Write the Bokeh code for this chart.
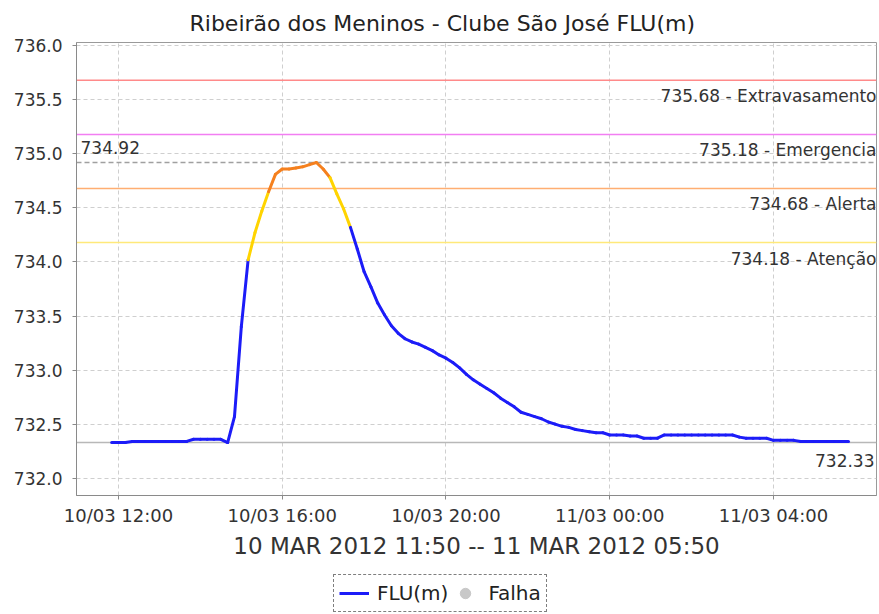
import pandas as pd
from bokeh.plotting import figure
from bokeh.layouts import column
from bokeh.models import (Span, Label, Legend, LegendItem, ColumnDataSource,
                          FixedTicker, DatetimeTickFormatter, Range1d,
                          NumeralTickFormatter)
from bokeh.embed import file_html
from bokeh.resources import INLINE

# ---------------- data ----------------
title_text = "Ribeirão dos Meninos - Clube São José FLU(m)"
period_label = "10 MAR 2012 11:50 -- 11 MAR 2012 05:50"
series_name = "FLU(m)"
fail_name = "Falha"
start_time = "2012-03-10 11:50"
sample_step = "10min"

flu_values = [
    732.33, 732.33, 732.33, 732.34, 732.34, 732.34, 732.34, 732.34, 732.34, 732.34,
    732.34, 732.34, 732.36, 732.36, 732.36, 732.36, 732.36, 732.33, 732.57, 733.40,
    734.02, 734.27, 734.47, 734.65, 734.81, 734.86, 734.86, 734.87, 734.88, 734.90,
    734.92, 734.86, 734.78, 734.63, 734.49, 734.32, 734.12, 733.91, 733.77, 733.62,
    733.51, 733.41, 733.34, 733.29, 733.26, 733.24, 733.21, 733.18, 733.14, 733.11,
    733.07, 733.02, 732.96, 732.91, 732.87, 732.83, 732.79, 732.74, 732.70, 732.66,
    732.61, 732.59, 732.57, 732.55, 732.52, 732.50, 732.48, 732.47, 732.45, 732.44,
    732.43, 732.42, 732.42, 732.40, 732.40, 732.40, 732.39, 732.39, 732.37, 732.37,
    732.37, 732.40, 732.40, 732.40, 732.40, 732.40, 732.40, 732.40, 732.40, 732.40,
    732.40, 732.40, 732.38, 732.37, 732.37, 732.37, 732.37, 732.35, 732.35, 732.35,
    732.35, 732.34, 732.34, 732.34, 732.34, 732.34, 732.34, 732.34, 732.34,
]

threshold_values = [735.68, 735.18, 734.68, 734.18]
threshold_names = ["Extravasamento", "Emergencia", "Alerta", "Atenção"]
threshold_colors = ["#FF8A8A", "#F27EF2", "#FFAE72", "#FFE97A"]

# level colours of the series: below 734.18, 734.18-734.68, above 734.68
level_bounds = [734.18, 734.68]
level_colors = ["#1C1CF8", "#FFD400", "#F5801E"]
fail_color = "#C8C8C8"

x_tick_times = ["2012-03-10 12:00", "2012-03-10 16:00", "2012-03-10 20:00",
                "2012-03-11 00:00", "2012-03-11 04:00"]
y_ticks = [732.0, 732.5, 733.0, 733.5, 734.0, 734.5, 735.0, 735.5, 736.0]
x_view = ["2012-03-10 10:58:27", "2012-03-11 06:31:00"]
y_view = [731.84, 736.03]

# ---------------- build ----------------
def ms(t):
    return pd.Timestamp(t).value / 1e6

times = pd.date_range(start_time, periods=len(flu_values), freq=sample_step)

def level_color(v):
    if v < level_bounds[0]:
        return level_colors[0]
    if v < level_bounds[1]:
        return level_colors[1]
    return level_colors[2]

seg_src = ColumnDataSource(dict(
    x0=list(times[:-1]), x1=list(times[1:]),
    y0=flu_values[:-1], y1=flu_values[1:],
    color=[level_color(v) for v in flu_values[1:]],
))

FONT = "DejaVu Sans"

p = figure(frame_width=800, frame_height=453, output_backend="svg",
           toolbar_location=None, x_axis_type="datetime",
           x_range=Range1d(ms(x_view[0]), ms(x_view[1])),
           y_range=Range1d(y_view[0], y_view[1]),
           min_border_left=76, min_border_right=2, min_border_top=42,
           min_border_bottom=76)

p.title.text = title_text
p.title.text_font = FONT
p.title.text_font_size = "22px"
p.title.text_font_style = "normal"
p.title.text_color = "#222222"
p.title.align = "left"
p.title.offset = 113
p.title.standoff = 14

p.outline_line_color = "#9A9A9A"
p.outline_line_width = 1
p.background_fill_color = "white"
p.border_fill_color = "white"

# grid
for g in (p.xgrid, p.ygrid):
    g.grid_line_color = "#CFCFCF"
    g.grid_line_dash = "4 3"
    g.grid_line_width = 1
p.xgrid.ticker = FixedTicker(ticks=[ms(t) for t in x_tick_times])
p.ygrid.ticker = FixedTicker(ticks=y_ticks)

# axes
p.xaxis.ticker = FixedTicker(ticks=[ms(t) for t in x_tick_times])
p.xaxis.formatter = DatetimeTickFormatter(hours="%d/%m %H:%M", days="%d/%m %H:%M",
                                          minutes="%d/%m %H:%M", hourmin="%d/%m %H:%M")
p.yaxis.ticker = FixedTicker(ticks=y_ticks)
p.yaxis.formatter = NumeralTickFormatter(format="0.0")
for ax in (p.xaxis[0], p.yaxis[0]):
    ax.axis_line_color = "#8A8A8A"
    ax.major_tick_line_color = "#8A8A8A"
    ax.major_tick_in = 0
    ax.major_tick_out = 4
    ax.minor_tick_line_color = None
    ax.major_label_text_font = FONT
    ax.major_label_text_color = "#333333"
p.yaxis.major_label_text_font_size = "17px"
p.xaxis.major_label_text_font_size = "18px"
p.xaxis.major_label_standoff = 5
p.yaxis.major_label_standoff = 10
p.xaxis.axis_label = period_label
p.xaxis.axis_label_text_font = FONT
p.xaxis.axis_label_text_font_size = "23px"
p.xaxis.axis_label_text_font_style = "normal"
p.xaxis.axis_label_text_color = "#333333"
p.xaxis.axis_label_standoff = 4

# threshold lines and labels
for v, name, c in zip(threshold_values, threshold_names, threshold_colors):
    p.add_layout(Span(location=v, dimension="width", line_color=c,
                      line_width=1.5, level="underlay"))
    p.add_layout(Label(x=ms(x_view[1]), y=v, x_offset=0, y_offset=-16,
                       text=f"{v:.2f} - {name}", text_align="right",
                       text_baseline="middle", text_font=FONT,
                       text_font_size="17px", text_color="#333333"))

vmax = max(flu_values)
vmin = min(flu_values)
p.add_layout(Span(location=vmax, dimension="width", line_color="#A0A0A0",
                  line_width=1.5, line_dash="5 3", level="underlay"))
p.add_layout(Label(x=ms(x_view[0]), y=vmax, x_offset=4, y_offset=15,
                   text=f"{vmax:.2f}", text_align="left", text_baseline="middle",
                   text_font=FONT, text_font_size="17px", text_color="#333333"))
p.add_layout(Span(location=vmin, dimension="width", line_color="#B8B8B8",
                  line_width=1.5, level="underlay"))
p.add_layout(Label(x=ms(x_view[1]), y=vmin, x_offset=-2, y_offset=-18,
                   text=f"{vmin:.2f}", text_align="right", text_baseline="middle",
                   text_font=FONT, text_font_size="17px", text_color="#333333"))

# series
p.segment(x0="x0", y0="y0", x1="x1", y1="y1", color="color",
          line_width=3, line_cap="round", source=seg_src)

# ---------------- legend strip ----------------
# the strip's ranges keep its own copies of the series out of view;
# they exist only so that the legend can draw its glyphs
lg = figure(width=878, height=43, output_backend="svg", toolbar_location=None,
            x_axis_location=None, y_axis_location=None,
            x_range=Range1d(0, 1), y_range=Range1d(0, 1),
            min_border_left=0, min_border_right=0, min_border_top=0,
            min_border_bottom=0)
lg.outline_line_color = None
lg.grid.visible = False
lg.background_fill_color = "white"
lg.border_fill_color = "white"
r_flu = lg.segment(x0="x0", y0="y0", x1="x1", y1="y1", color=level_colors[0],
                   line_width=3, source=seg_src)
r_fail = lg.scatter(x="x0", y="y0", size=12, color=fail_color, marker="circle",
                    source=seg_src)

legend = Legend(items=[LegendItem(label=series_name, renderers=[r_flu], index=0),
                       LegendItem(label=fail_name, renderers=[r_fail], index=0)],
                orientation="horizontal", location=(257, 2))
legend.label_text_font = FONT
legend.label_text_font_size = "20px"
legend.label_text_color = "#222222"
legend.border_line_color = "black"
legend.border_line_dash = "3 2"
legend.border_line_width = 1
legend.glyph_width = 30
legend.glyph_height = 26
legend.label_standoff = 8
legend.spacing = 2
legend.padding = 5
legend.margin = 0
lg.add_layout(legend, "center")

layout = column(p, lg, spacing=0)
open("out.html", "w").write(file_html(layout, INLINE))
